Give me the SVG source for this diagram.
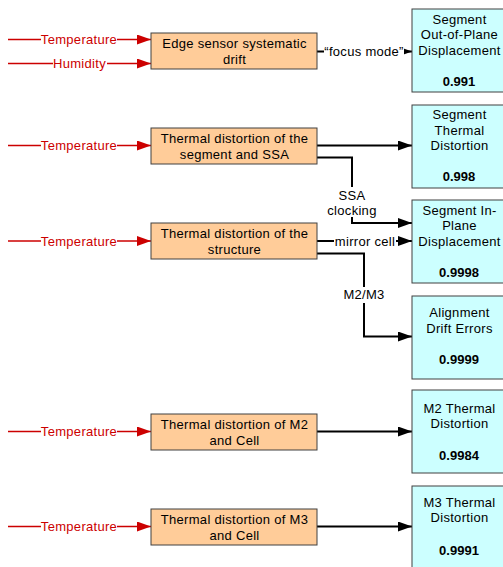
<svg xmlns="http://www.w3.org/2000/svg" width="503" height="567" viewBox="0 0 503 567">
<defs>
<style>
text{font-family:"Liberation Sans",Arial,sans-serif;font-size:13px;text-anchor:middle;fill:#000;letter-spacing:0.3px}
.red{fill:#CC0000}
.num{font-weight:bold;letter-spacing:0}
.src rect{fill:#FFCC99;stroke:#404040;stroke-width:1}
.dst rect{fill:#CCFFFF;stroke:#404040;stroke-width:1}
.rl{stroke:#CC0000;stroke-width:1.5;fill:none}
.bl{stroke:#000;stroke-width:2;fill:none}
.bg{fill:#fff}
</style>
<marker id="ar" markerUnits="userSpaceOnUse" markerWidth="14" markerHeight="10" refX="14" refY="5" orient="auto" viewBox="0 0 14 10">
<path d="M0,0 L14,5 L0,10 z" fill="#CC0000"/>
</marker>
<marker id="ab" markerUnits="userSpaceOnUse" markerWidth="14" markerHeight="10" refX="14" refY="5" orient="auto" viewBox="0 0 14 10">
<path d="M0,0 L14,5 L0,10 z" fill="#000"/>
</marker>
</defs>
<rect width="503" height="567" fill="#fff"/>

<g id="connectors">
<path class="rl" d="M8,39.5 H151" marker-end="url(#ar)"/>
<path class="rl" d="M8,63.5 H151" marker-end="url(#ar)"/>
<path class="rl" d="M8,145.5 H151" marker-end="url(#ar)"/>
<path class="rl" d="M8,241 H151" marker-end="url(#ar)"/>
<path class="rl" d="M8,431.5 H151" marker-end="url(#ar)"/>
<path class="rl" d="M8,526.5 H151" marker-end="url(#ar)"/>
<rect class="bg" x="41" y="32" width="76" height="15"/>
<text class="red" x="79" y="44">Temperature</text>
<rect class="bg" x="53" y="56" width="54" height="15"/>
<text class="red" x="79.5" y="68">Humidity</text>
<rect class="bg" x="41" y="138" width="76" height="15"/>
<text class="red" x="79" y="150">Temperature</text>
<rect class="bg" x="41" y="233.5" width="76" height="15"/>
<text class="red" x="79" y="245.5">Temperature</text>
<rect class="bg" x="41" y="424" width="76" height="15"/>
<text class="red" x="79" y="436">Temperature</text>
<rect class="bg" x="41" y="519" width="76" height="15"/>
<text class="red" x="79" y="531">Temperature</text>

<path class="bl" d="M317,51.5 H412" marker-end="url(#ab)"/>
<rect class="bg" x="324" y="44" width="80" height="15"/>
<text x="364" y="56">“focus mode”</text>
<path class="bl" d="M317,145.5 H412" marker-end="url(#ab)"/>
<path class="bl" d="M317,157.5 H352 V223 H412" marker-end="url(#ab)"/>
<rect class="bg" x="325" y="187" width="54" height="30"/>
<text x="352" y="199.5">SSA</text>
<text x="352" y="214.5">clocking</text>
<path class="bl" d="M317,241 H412" marker-end="url(#ab)"/>
<rect class="bg" x="334" y="233.5" width="62" height="15"/>
<text x="365" y="245.5">mirror cell</text>
<path class="bl" d="M317,253.5 H364 V336.5 H412" marker-end="url(#ab)"/>
<rect class="bg" x="341" y="287" width="46" height="16"/>
<text x="364" y="299">M2/M3</text>
<path class="bl" d="M317,431.5 H412" marker-end="url(#ab)"/>
<path class="bl" d="M317,526.5 H412" marker-end="url(#ab)"/>
</g>

<g id="src1" class="src"><rect x="151" y="33" width="166" height="36"/>
<text x="234.5" y="47.5">Edge sensor systematic</text><text x="234.5" y="63.5">drift</text></g>
<g id="src2" class="src"><rect x="151" y="128" width="166" height="36"/>
<text x="234.5" y="142.5">Thermal distortion of the</text><text x="234.5" y="158.5">segment and SSA</text></g>
<g id="src3" class="src"><rect x="151" y="223" width="166" height="36"/>
<text x="234.5" y="237.5">Thermal distortion of the</text><text x="234.5" y="253.5">structure</text></g>
<g id="src4" class="src"><rect x="151" y="414" width="166" height="36"/>
<text x="234.5" y="428.5">Thermal distortion of M2</text><text x="234.5" y="444.5">and Cell</text></g>
<g id="src5" class="src"><rect x="151" y="509" width="166" height="36"/>
<text x="234.5" y="523.5">Thermal distortion of M3</text><text x="234.5" y="539.5">and Cell</text></g>

<g id="dst1" class="dst"><rect x="412" y="9" width="100" height="83"/>
<text x="459.5" y="23.7">Segment</text><text x="459.5" y="39">Out-of-Plane</text><text x="459.5" y="55.4">Displacement</text><text class="num" x="459" y="86.4">0.991</text></g>
<g id="dst2" class="dst"><rect x="412" y="105" width="100" height="83"/>
<text x="459.5" y="119">Segment</text><text x="459.5" y="134.7">Thermal</text><text x="459.5" y="150.4">Distortion</text><text class="num" x="459" y="181.4">0.998</text></g>
<g id="dst3" class="dst"><rect x="412" y="200" width="100" height="83"/>
<text x="459.5" y="214.7">Segment In-</text><text x="459.5" y="229.7">Plane</text><text x="459.5" y="245.7">Displacement</text><text class="num" x="459" y="277">0.9998</text></g>
<g id="dst4" class="dst"><rect x="412" y="296" width="100" height="83"/>
<text x="459.5" y="317.4">Alignment</text><text x="459.5" y="333">Drift Errors</text><text class="num" x="459" y="364">0.9999</text></g>
<g id="dst5" class="dst"><rect x="412" y="390" width="100" height="83"/>
<text x="459.5" y="413">M2 Thermal</text><text x="459.5" y="428">Distortion</text><text class="num" x="459" y="459.7">0.9984</text></g>
<g id="dst6" class="dst"><rect x="412" y="486" width="100" height="90"/>
<text x="459.5" y="507.4">M3 Thermal</text><text x="459.5" y="522.4">Distortion</text><text class="num" x="459" y="555.4">0.9991</text></g>
</svg>
